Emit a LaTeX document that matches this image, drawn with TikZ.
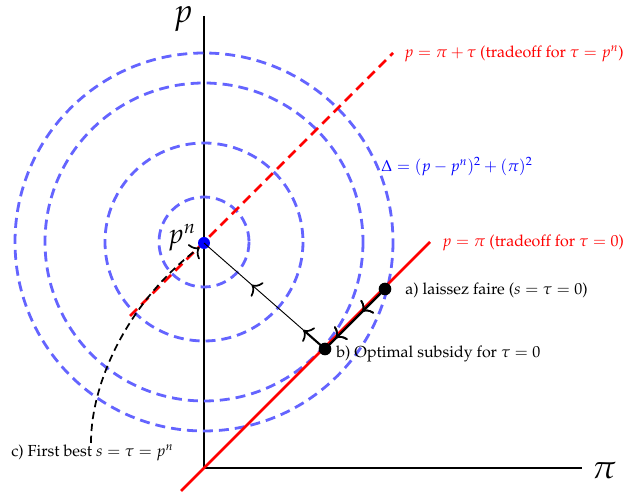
\documentclass[tikz,border=0pt]{standalone}
\usepackage[T1]{fontenc}
\usepackage{mathpazo}
\usetikzlibrary{arrows.meta,decorations.markings,calc}
\definecolor{circblue}{RGB}{100,100,255}
\tikzset{
  axis/.style={line width=1.8pt},
  circ/.style={circblue, line width=2.1pt, dash pattern=on 7.5pt off 4.5pt},
  reddash/.style={red, line width=2.1pt, dash pattern=on 7.5pt off 4.5pt},
  redline/.style={red, line width=2.1pt},
  dotnode/.style={circle, fill=black, inner sep=0pt, minimum size=9.5pt},
  bluedot/.style={circle, fill=blue, inner sep=0pt, minimum size=9pt},
  lbl/.style={anchor=west, inner sep=0pt, font=\large},
  tipc/.tip={Computer Modern Rightarrow[width=14pt,length=6pt,line width=1.3pt]},
  midarrow/.style={postaction={decorate}, decoration={markings, mark=at position #1 with {\arrow{tipc}}}},
}
\begin{document}
\begin{tikzpicture}[x=0.75pt,y=-0.75pt]
\useasboundingbox (0,0) rectangle (626,498);
% axes
\coordinate (O) at (204,468);
\coordinate (ptop) at (204,16);
\coordinate (pright) at (582,468);
\draw[axis] (ptop) -- (O) -- (pright);
\node[inner sep=0pt] (plab) at (183,19) {\Huge $p$};
\node[inner sep=0pt] (pilab) at (604,470) {\Huge $\pi$};
% circles
\coordinate (C) at (204,242);
\draw[circ] (C) circle[radius=45];
\draw[circ] (C) circle[radius=99];
\draw[circ] (C) circle[radius=159];
\draw[circ] (C) circle[radius=189];
% red lines
\coordinate (r1) at (181,491);
\coordinate (r2) at (430,242);
\draw[redline] (r1) -- (r2);
\coordinate (d1) at (130,316);
\coordinate (d2) at (393,53);
\draw[reddash] (d1) -- (d2);
% labels
\node[lbl, red] (l1) at (404,54) {$p = \pi + \tau$ (tradeoff for $\tau = p^n$)};
\node[lbl, blue] (l2) at (381,167) {$\Delta = (p - p^n)^2 + (\pi)^2$};
\node[lbl, red] (l3) at (442,243) {$p = \pi$ (tradeoff for $\tau = 0$)};
\node[lbl] (la) at (405,290) {a) laissez faire ($s = \tau = 0$)};
\node[lbl] (lb) at (336,354) {b) Optimal subsidy for $\tau = 0$};
\node[lbl] (lc) at (11,453) {c) First best $s = \tau = p^n$};
% points
\node[bluedot] (pn) at (204,243) {};
\node[anchor=east, inner sep=0pt] (pnlab) at (196,238) {\huge $p^n$};
\node[dotnode] (a) at (385,289) {};
\node[dotnode] (b) at (325,349) {};
% a -> b
\draw[line width=1.6pt, midarrow=0.38, midarrow=0.82] (a.center) -- (b.center);
% b -> pn
\coordinate (m1) at ($(b.center)!0.18!(pn.center)$);
\draw[line width=1.6pt, -{tipc}] (b.center) -- (m1);
\draw[line width=0.7pt, midarrow=0.52] (m1) -- (pn.center);
% first best curve
\coordinate (cstart) at (91,443);
\draw[line width=1.3pt, dash pattern=on 5.5pt off 3.5pt, -{tipc}] (cstart) .. controls (91,380) and (130,300) .. (pn.south west);
\end{tikzpicture}
\end{document}
